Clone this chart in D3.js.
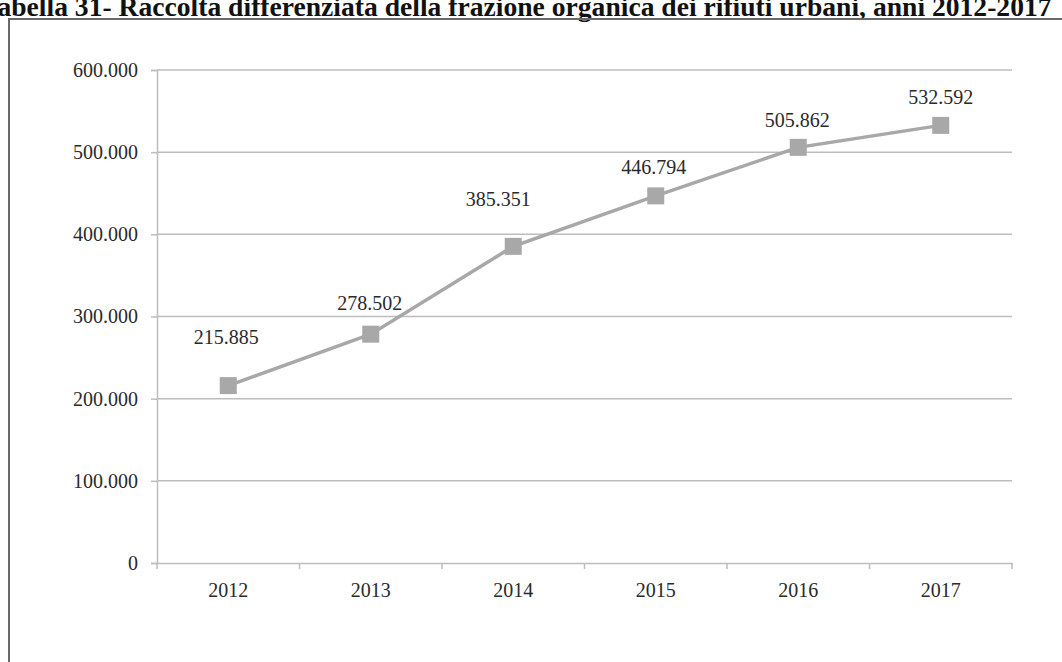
<!DOCTYPE html>
<html>
<head>
<meta charset="utf-8">
<script src="https://cdn.jsdelivr.net/npm/d3@7"></script>
<style>
  html, body { margin: 0; padding: 0; background: #fff; }
  svg { display: block; }
</style>
</head>
<body>
<svg id="chart" width="1062" height="662"></svg>
<script>
// ---- data ----
const titleText = "Tabella 31- Raccolta differenziata della frazione organica dei rifiuti urbani, anni 2012-2017";
const years = ["2012", "2013", "2014", "2015", "2016", "2017"];
const values = [215885, 278502, 385351, 446794, 505862, 532592];
const yTicks = [0, 100000, 200000, 300000, 400000, 500000, 600000];

// ---- layout ----
const svg = d3.select("#chart");
const W = 1062, H = 662;
const plot = { left: 157, right: 1012, top: 70, bottom: 563 };
const gray = "#bdbdbd";
const markColor = "#a8a8a8";
const textColor = "#2a2a2a";
const fontFam = "'Liberation Serif', 'Times New Roman', serif";
// label placement relative to each point (dx, dy of baseline)
const labelOffsets = [[-2, -42], [-1, -24], [-15, -40], [-2, -22], [-1, -20], [0, -21]];

const fmt = v => v === 0 ? "0" : d3.format(",")(v).replace(/,/g, ".");

svg.append("rect").attr("width", W).attr("height", H).attr("fill", "#fff");

// title
const title = svg.append("text")
  .attr("font-family", fontFam)
  .attr("font-weight", "bold")
  .attr("font-size", 22)
  .attr("fill", "#111")
  .attr("y", 16)
  .text(titleText);
const tNode = title.node();
const fullW = tNode.getComputedTextLength();
const tmp = svg.append("text").attr("font-family", fontFam).attr("font-weight", "bold")
  .attr("font-size", 22).text("T");
const tW = tmp.node().getComputedTextLength();
tmp.remove();
const fs = 22 * 1052 / (fullW - tW);
title.attr("font-size", fs).attr("x", -tW * fs / 22);

// frame
svg.append("path")
  .attr("d", `M9,${H + 5} L9,19 L${W + 5},19`)
  .attr("fill", "none").attr("stroke", "#6a6a6a").attr("stroke-width", 2);

const x = d3.scaleBand().domain(years).range([plot.left, plot.right]).padding(0);
const y = d3.scaleLinear().domain([0, 600000]).range([plot.bottom, plot.top]);

// y axis
const yAxis = d3.axisLeft(y).tickValues(yTicks).tickSize(6).tickPadding(13).tickFormat(fmt);
const gy = svg.append("g").attr("transform", `translate(${plot.left},0)`).call(yAxis);
gy.select(".domain").attr("stroke", gray).attr("stroke-width", 1.5);
gy.selectAll(".tick line").attr("stroke", gray).attr("stroke-width", 1.5);
gy.selectAll(".tick text").attr("font-family", fontFam).attr("font-size", 20).attr("fill", textColor);

// gridlines
svg.append("g").selectAll("line").data(yTicks.filter(d => d > 0)).join("line")
  .attr("x1", plot.left).attr("x2", plot.right)
  .attr("y1", d => y(d)).attr("y2", d => y(d))
  .attr("stroke", gray).attr("stroke-width", 1.5);

// x axis
const gx = svg.append("g").attr("transform", `translate(0,${plot.bottom})`)
  .call(d3.axisBottom(x).tickSize(0).tickPadding(20));
gx.select(".domain").attr("stroke", gray).attr("stroke-width", 1.5);
gx.selectAll(".tick text").attr("font-family", fontFam).attr("font-size", 20).attr("fill", textColor);
const bounds = years.map(d => x(d)).concat([x(years[years.length - 1]) + x.bandwidth()]);
svg.append("g").selectAll("line").data(bounds).join("line")
  .attr("x1", d => d).attr("x2", d => d)
  .attr("y1", plot.bottom).attr("y2", plot.bottom + 6)
  .attr("stroke", gray).attr("stroke-width", 1.5);

// line
const pts = years.map((yr, i) => ({ yr, v: values[i], i }));
const cx = d => x(d.yr) + x.bandwidth() / 2;
svg.append("path").datum(pts)
  .attr("d", d3.line().x(cx).y(d => y(d.v)))
  .attr("fill", "none").attr("stroke", markColor).attr("stroke-width", 3.5);

// markers
const ms = 17;
svg.append("g").selectAll("rect").data(pts).join("rect")
  .attr("x", d => cx(d) - ms / 2).attr("y", d => y(d.v) - ms / 2)
  .attr("width", ms).attr("height", ms).attr("fill", markColor);

// data labels
svg.append("g").selectAll("text").data(pts).join("text")
  .attr("x", d => cx(d) + labelOffsets[d.i][0])
  .attr("y", d => y(d.v) + labelOffsets[d.i][1])
  .attr("text-anchor", "middle")
  .attr("font-family", fontFam).attr("font-size", 20).attr("fill", textColor)
  .text(d => fmt(d.v));
</script>
</body>
</html>
